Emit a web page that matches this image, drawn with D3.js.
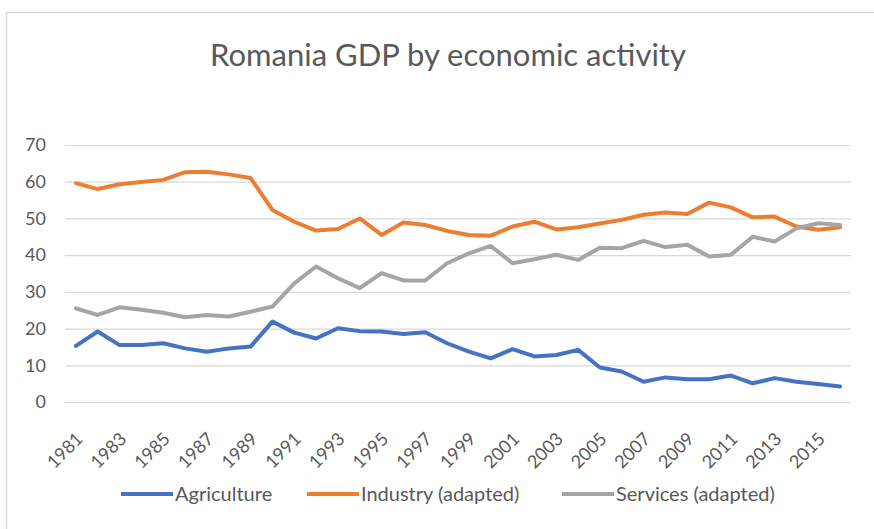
<!DOCTYPE html>
<html>
<head>
<meta charset="utf-8">
<script src="https://cdn.jsdelivr.net/npm/d3@7"></script>
<style>
  html, body { margin: 0; padding: 0; background: #fff; }
  svg { display: block; }
  text { font-family: Lato, "Open Sans", sans-serif; fill: #595959; }
</style>
</head>
<body>
<svg id="chart" width="874" height="529"></svg>
<script>
const years = d3.range(1981, 2017).map(String);
const agriculture = [15.3, 19.2, 15.5, 15.5, 16.0, 14.6, 13.7, 14.6, 15.1, 21.9, 18.9, 17.3,
  20.1, 19.3, 19.2, 18.5, 19.0, 16.0, 13.7, 11.9, 14.4, 12.4, 12.8, 14.2,
  9.4, 8.3, 5.5, 6.7, 6.2, 6.2, 7.2, 5.1, 6.5, 5.5, 4.9, 4.2];
const industry = [59.6, 58.0, 59.3, 59.9, 60.5, 62.6, 62.7, 62.0, 61.0, 52.3, 49.1, 46.7,
  47.1, 50.0, 45.5, 48.9, 48.2, 46.6, 45.5, 45.3, 47.8, 49.1, 47.0, 47.6,
  48.6, 49.6, 51.0, 51.6, 51.2, 54.3, 53.0, 50.3, 50.5, 47.8, 46.9, 47.6];
const services = [25.5, 23.7, 25.8, 25.1, 24.3, 23.1, 23.7, 23.3, 24.6, 26.0, 32.3, 36.9,
  33.7, 31.0, 35.1, 33.1, 33.1, 37.8, 40.5, 42.5, 37.8, 38.9, 40.1, 38.7,
  42.0, 41.9, 43.9, 42.2, 42.8, 39.6, 40.1, 45.0, 43.7, 47.3, 48.7, 48.2];
const yTicks = [0, 10, 20, 30, 40, 50, 60, 70];
const xTickLabels = years.filter((d, i) => i % 2 === 0);
const seriesNames = ["Agriculture", "Industry (adapted)", "Services (adapted)"];
const seriesColors = ["#4472C4", "#ED7D31", "#A5A5A5"];

const series = [agriculture, industry, services].map((vals, i) => ({
  name: seriesNames[i], color: seriesColors[i],
  values: vals.map((v, j) => ({ year: years[j], value: v }))
}));

const svg = d3.select("#chart");

// chart frame
svg.append("rect")
  .attr("x", 6.5).attr("y", 12.5).attr("width", 900).attr("height", 600)
  .attr("fill", "none").attr("stroke", "#d9d9d9").attr("stroke-width", 1.5);

const plot = { left: 65, right: 851, top: 145, bottom: 402 };

const x = d3.scaleBand().domain(years).range([plot.left, plot.right]).padding(0);
const y = d3.scaleLinear().domain([0, 70]).range([plot.bottom, plot.top]);

// title
svg.append("text")
  .attr("x", 448).attr("y", 66)
  .attr("text-anchor", "middle")
  .style("font-size", "31px")
  .text("Romania GDP by economic activity");

// gridlines + y labels via axis
const yAxis = d3.axisLeft(y).tickValues(yTicks).tickSize(-(plot.right - plot.left)).tickPadding(19);
const gy = svg.append("g").attr("transform", `translate(${plot.left},0)`).call(yAxis);
gy.select(".domain").remove();
gy.selectAll(".tick line").attr("stroke", "#d9d9d9").attr("stroke-width", 1.2);
gy.selectAll(".tick text")
  .attr("fill", "#595959")
  .style("font-size", "18px")
  .style("font-family", "Lato, 'Open Sans', sans-serif");

// x axis labels
const xAxis = d3.axisBottom(x).tickValues(xTickLabels).tickSize(0).tickPadding(0);
const gx = svg.append("g").attr("transform", `translate(0,${plot.bottom})`).call(xAxis);
gx.select(".domain").remove();
gx.selectAll(".tick text")
  .attr("fill", "#595959")
  .style("font-size", "18px")
  .style("font-family", "Lato, 'Open Sans', sans-serif")
  .attr("text-anchor", "end")
  .attr("dy", 0)
  .attr("y", 0)
  .attr("transform", "translate(8,38) rotate(-45)");

// lines
const line = d3.line()
  .x(d => x(d.year) + x.bandwidth() / 2)
  .y(d => y(d.value));

svg.append("g").selectAll("path")
  .data(series)
  .join("path")
  .attr("d", d => line(d.values))
  .attr("fill", "none")
  .attr("stroke", d => d.color)
  .attr("stroke-width", 4)
  .attr("stroke-linejoin", "round")
  .attr("stroke-linecap", "round");

// legend
const legendX = [121, 307, 562];
const lg = svg.append("g").selectAll("g")
  .data(series)
  .join("g")
  .attr("transform", (d, i) => `translate(${legendX[i]},494)`);
lg.append("line")
  .attr("x1", 0).attr("x2", 52).attr("y1", 0).attr("y2", 0)
  .attr("stroke", d => d.color).attr("stroke-width", 4);
lg.append("text")
  .attr("x", 54).attr("y", 7)
  .style("font-size", "20px")
  .text(d => d.name);
</script>
</body>
</html>
